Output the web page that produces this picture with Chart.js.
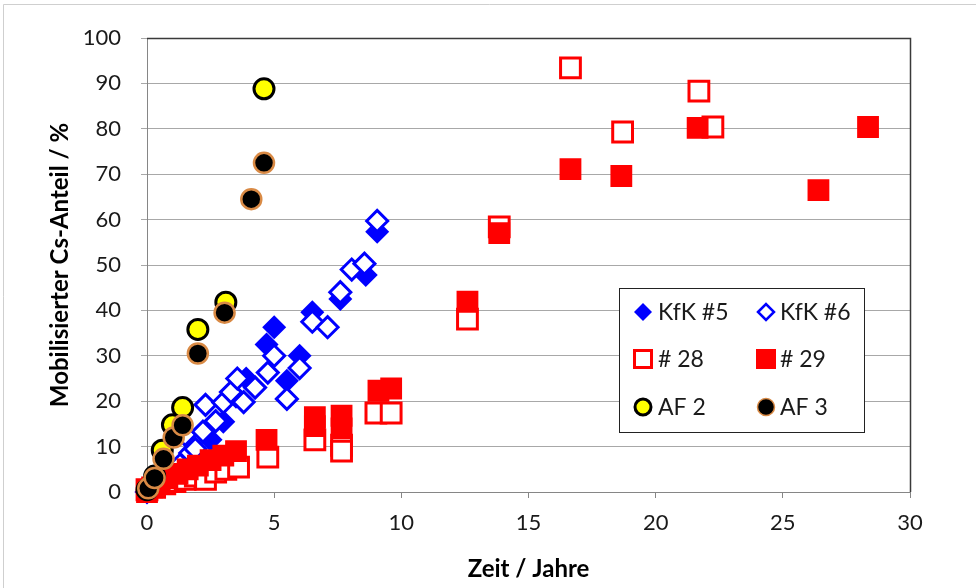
<!DOCTYPE html>
<html><head><meta charset="utf-8">
<script src="https://cdn.jsdelivr.net/npm/chart.js@4.4.1/dist/chart.umd.min.js"></script>
<style>html,body{margin:0;padding:0;background:#fff}#wrap{width:976px;height:588px;position:relative}</style>
</head><body><div id="wrap"><canvas id="c" width="976" height="588"></canvas></div>
<script>
// ---- data ----
const kfk5X = [0, 0.3, 0.7, 1.1, 1.6, 2.0, 2.5, 3.0, 3.5, 3.9, 4.7, 5.0, 5.5, 6.0, 6.5, 7.6, 8.6, 9.05];
const kfk5Y = [0, 1, 2.5, 4, 6, 8.5, 11.5, 15.5, 21, 25, 32.5, 36.3, 24.5, 30, 39.6, 42.5, 47.8, 57.3];
const kfk6X = [0, 0.4, 0.9, 1.3, 1.7, 1.9, 1.5, 2.2, 2.7, 2.3, 3.0, 3.3, 3.55, 3.8, 4.25, 4.75, 5.0, 5.5, 6.0, 6.5, 7.1, 7.6, 8.05, 8.55, 9.05];
const kfk6Y = [0, 1.5, 3.5, 6, 8.6, 9.5, 12.6, 13.3, 15.6, 19.2, 19.7, 22, 25, 19.8, 23, 26.3, 30, 20.5, 27.3, 37.5, 36.3, 44, 49, 50.3, 59.7];
const s28X = [0, 0.3, 0.7, 1.1, 1.5, 1.9, 2.3, 2.7, 3.1, 3.6, 4.75, 6.6, 7.65, 7.65, 9.0, 9.6, 12.6, 13.85, 16.65, 18.7, 21.7, 22.25];
const s28Y = [0.5, 1, 1.8, 2.3, 2.8, 3.5, 2.8, 4.4, 5, 5.5, 7.7, 11.5, 10.3, 9, 17.4, 17.4, 38.1, 58.4, 93.4, 79.3, 88.3, 80.4];
const s29X = [0, 0.2, 0.5, 0.8, 1.2, 1.6, 2.0, 2.5, 3.0, 3.5, 4.7, 6.6, 6.6, 7.65, 7.65, 9.1, 9.6, 12.6, 13.85, 16.65, 18.65, 21.65, 26.4, 28.35];
const s29Y = [0, 1, 2, 3, 4, 5, 5.8, 7, 8, 9, 11.5, 16.5, 14.5, 16.8, 14, 22.3, 22.8, 41.9, 57, 71.1, 69.6, 80.2, 66.5, 80.4];
const af2X = [0, 0.3, 0.6, 1.0, 1.4, 2.0, 3.1, 4.6];
const af2Y = [0.5, 3.5, 9.2, 14.8, 18.6, 35.8, 41.8, 88.8];
const af3X = [0.05, 0.3, 0.65, 1.05, 1.4, 2.0, 3.05, 4.1, 4.6];
const af3Y = [0.8, 3.1, 7.3, 12, 14.7, 30.5, 39.5, 64.5, 72.5];
const seriesNames = ['KfK #5', 'KfK #6', '# 28', '# 29', 'AF 2', 'AF 3'];
const xTicksStep = 5, xMin = 0, xMax = 30;
const yTicksStep = 10, yMin = 0, yMax = 100;
const xTitle = 'Zeit / Jahre';
const yTitle = 'Mobilisierter Cs-Anteil / %';

const pts = (xs, ys) => xs.map((x, i) => ({x: x, y: ys[i]}));
const FONT = 'Lato, "Noto Sans", sans-serif';
const BLUE = '#0000FF', RED = '#FF0000', ORANGE = '#D98A45';

const datasets = [
  {label: seriesNames[0], data: pts(kfk5X, kfk5Y), pointStyle: 'rectRot', pointRadius: 12, pointBackgroundColor: BLUE, pointBorderColor: BLUE, pointBorderWidth: 0, order: 6},
  {label: seriesNames[1], data: pts(kfk6X, kfk6Y), pointStyle: 'rectRot', pointRadius: 10.5, pointBackgroundColor: '#fff', pointBorderColor: BLUE, pointBorderWidth: 3, order: 5},
  {label: seriesNames[2], data: pts(s28X, s28Y), pointStyle: 'rect', pointRadius: 14, pointBackgroundColor: '#fff', pointBorderColor: RED, pointBorderWidth: 3, order: 4},
  {label: seriesNames[3], data: pts(s29X, s29Y), pointStyle: 'rect', pointRadius: 14, pointBackgroundColor: RED, pointBorderColor: RED, pointBorderWidth: 2, order: 3},
  {label: seriesNames[4], data: pts(af2X, af2Y), pointStyle: 'circle', pointRadius: 10, pointBackgroundColor: '#FFFF00', pointBorderColor: '#000', pointBorderWidth: 3, order: 2},
  {label: seriesNames[5], data: pts(af3X, af3Y), pointStyle: 'circle', pointRadius: 10, pointBackgroundColor: '#000', pointBorderColor: ORANGE, pointBorderWidth: 2.5, order: 1}
];
datasets.forEach(d => { d.showLine = false; d.pointHoverRadius = d.pointRadius; d.clip = false; });

function marker(ctx, kind, x, y, r, fill, stroke, bw) {
  ctx.save();
  ctx.beginPath();
  if (kind === 'diamond') { ctx.moveTo(x - r, y); ctx.lineTo(x, y - r); ctx.lineTo(x + r, y); ctx.lineTo(x, y + r); ctx.closePath(); }
  else if (kind === 'square') { ctx.rect(x - r, y - r, 2 * r, 2 * r); }
  else { ctx.arc(x, y, r, 0, Math.PI * 2); }
  ctx.fillStyle = fill; ctx.fill();
  if (bw > 0) { ctx.lineWidth = bw; ctx.strokeStyle = stroke; ctx.stroke(); }
  ctx.restore();
}

const framePlugin = {
  id: 'frame',
  beforeDraw(chart) {
    const ctx = chart.ctx;
    ctx.save();
    ctx.strokeStyle = '#cfcfcf'; ctx.lineWidth = 1;
    ctx.beginPath(); ctx.moveTo(3.5, 588); ctx.lineTo(3.5, 4.5); ctx.lineTo(976, 4.5); ctx.stroke();
    ctx.restore();
  },
  beforeDatasetsDraw(chart) {
    const {ctx, chartArea: a} = chart;
    ctx.save();
    ctx.strokeStyle = '#3a3a3a'; ctx.lineWidth = 1.5;
    ctx.beginPath(); ctx.moveTo(a.left, a.top + 0.5); ctx.lineTo(a.right + 0.5, a.top + 0.5); ctx.lineTo(a.right + 0.5, a.bottom); ctx.stroke();
    ctx.restore();
  },
  afterDatasetsDraw(chart) {
    const ctx = chart.ctx;
    ctx.save();
    const bx = 619, by = 288, bw = 245, bh = 144;
    ctx.fillStyle = '#fff'; ctx.fillRect(bx, by, bw, bh);
    ctx.strokeStyle = '#222'; ctx.lineWidth = 1; ctx.strokeRect(bx + 0.5, by + 0.5, bw, bh);
    const rows = [312, 359, 407], mx = [643, 766], tx = [658, 780];
    marker(ctx, 'diamond', mx[0], rows[0], 9, BLUE, BLUE, 0);
    marker(ctx, 'diamond', mx[1], rows[0], 8, '#fff', BLUE, 2.5);
    marker(ctx, 'square', mx[0], rows[1], 8.5, '#fff', RED, 3);
    marker(ctx, 'square', mx[1], rows[1], 10, RED, RED, 0);
    marker(ctx, 'circle', mx[0], rows[2], 8, '#FFFF00', '#000', 3);
    marker(ctx, 'circle', mx[1], rows[2], 8.5, '#000', ORANGE, 1.5);
    ctx.fillStyle = '#1a1a1a'; ctx.font = '23px ' + FONT; ctx.textBaseline = 'middle'; ctx.textAlign = 'left';
    for (let i = 0; i < 6; i++) ctx.fillText(seriesNames[i], tx[i % 2], rows[Math.floor(i / 2)] + 1);
    ctx.restore();
  }
};

new Chart(document.getElementById('c'), {
  type: 'scatter',
  data: {datasets},
  plugins: [framePlugin],
  options: {
    responsive: false, animation: false, devicePixelRatio: 1, events: [],
    layout: {padding: {left: 46, right: 66, top: 38, bottom: 4}},
    plugins: {legend: {display: false}, tooltip: {enabled: false}},
    scales: {
      x: {
        type: 'linear', min: xMin, max: xMax,
        ticks: {stepSize: xTicksStep, font: {family: FONT, size: 22}, color: '#1a1a1a', padding: 12, maxRotation: 0},
        grid: {drawOnChartArea: false, drawTicks: true, tickLength: 6, color: '#868686'},
        border: {display: true, color: '#868686', width: 1},
        title: {display: true, text: xTitle, font: {family: FONT, size: 24, weight: 'bold'}, color: '#000', padding: 0},
        afterFit(s) { s.height = 92; }
      },
      y: {
        type: 'linear', min: yMin, max: yMax,
        ticks: {stepSize: yTicksStep, font: {family: FONT, size: 22}, color: '#1a1a1a', padding: 20},
        grid: {color: '#a8a8a8', tickLength: 6, lineWidth: 1},
        border: {display: true, color: '#868686', width: 1},
        title: {display: true, text: yTitle, font: {family: FONT, size: 24, weight: 'bold'}, color: '#000', padding: 0},
        afterFit(s) { s.width = 101; }
      }
    }
  }
});
</script></body></html>
